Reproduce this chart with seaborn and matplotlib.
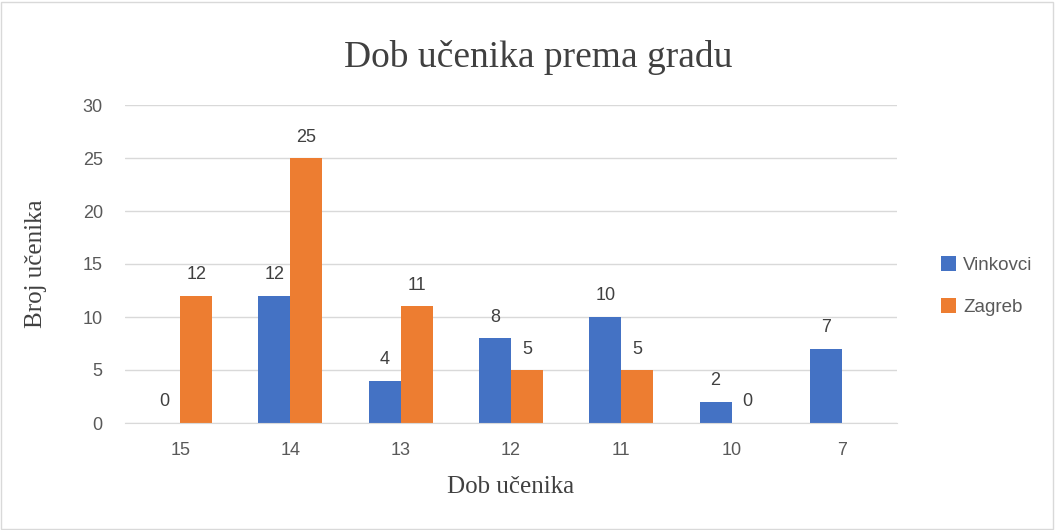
import numpy as np
import pandas as pd
import matplotlib.pyplot as plt
import seaborn as sns

# Data
ages = ["15", "14", "13", "12", "11", "10", "7"]
vinkovci = [0, 12, 4, 8, 10, 2, 7]
zagreb = [12, 25, 11, 5, 5, 0, np.nan]

df = pd.DataFrame({
    "Dob": ages * 2,
    "Grad": ["Vinkovci"] * len(ages) + ["Zagreb"] * len(ages),
    "Broj": vinkovci + zagreb,
})

sns.set_style("white")
plt.rcParams["font.family"] = ["Liberation Sans", "DejaVu Sans"]

fig = plt.figure(figsize=(10.55, 5.3), dpi=100)
ax = fig.add_axes([125 / 1055, 107 / 530, 772 / 1055, 318 / 530])

palette = {"Vinkovci": "#4472C4", "Zagreb": "#ED7D31"}
sns.barplot(data=df, x="Dob", y="Broj", hue="Grad", order=ages,
            palette=palette, width=0.58, gap=0, saturation=1,
            edgecolor="none", ax=ax)

# value labels
for cont in ax.containers:
    labels = ["" if np.isnan(b.get_height()) else f"{b.get_height():.0f}"
              for b in cont]
    ax.bar_label(cont, labels=labels, padding=9, fontsize=13, color="#404040")

ax.set_ylim(0, 30)
ax.set_yticks(range(0, 31, 5))
ax.yaxis.grid(True, color="#D9D9D9", linewidth=1)
ax.set_axisbelow(True)
for s in ["top", "right", "left"]:
    ax.spines[s].set_visible(False)
ax.spines["bottom"].set_color("#D9D9D9")
ax.tick_params(axis="both", length=0, labelsize=13, colors="#595959")
ax.tick_params(axis="x", pad=14)
ax.tick_params(axis="y", pad=16)

ax.set_xlabel("Dob učenika", family="Liberation Serif", fontsize=18,
              color="#404040", labelpad=12)
ax.set_ylabel("Broj učenika", family="Liberation Serif", fontsize=18,
              color="#404040", labelpad=26)
fig.suptitle("Dob učenika prema gradu", family="Liberation Serif",
             fontsize=27, color="#404040", x=0.51, y=0.925)

leg = ax.legend(loc="center left", bbox_to_anchor=(1.035, 0.43), frameon=False,
                fontsize=13.5, handlelength=0.8, handleheight=0.8,
                labelspacing=1.3, handletextpad=0.4)
for t in leg.get_texts():
    t.set_color("#595959")

# light border around the figure
fig.patches.append(plt.Rectangle((0.001, 0.002), 0.997, 0.995, transform=fig.transFigure,
                                 fill=False, edgecolor="#D9D9D9", linewidth=1))

fig.savefig("out.png", dpi=100)
